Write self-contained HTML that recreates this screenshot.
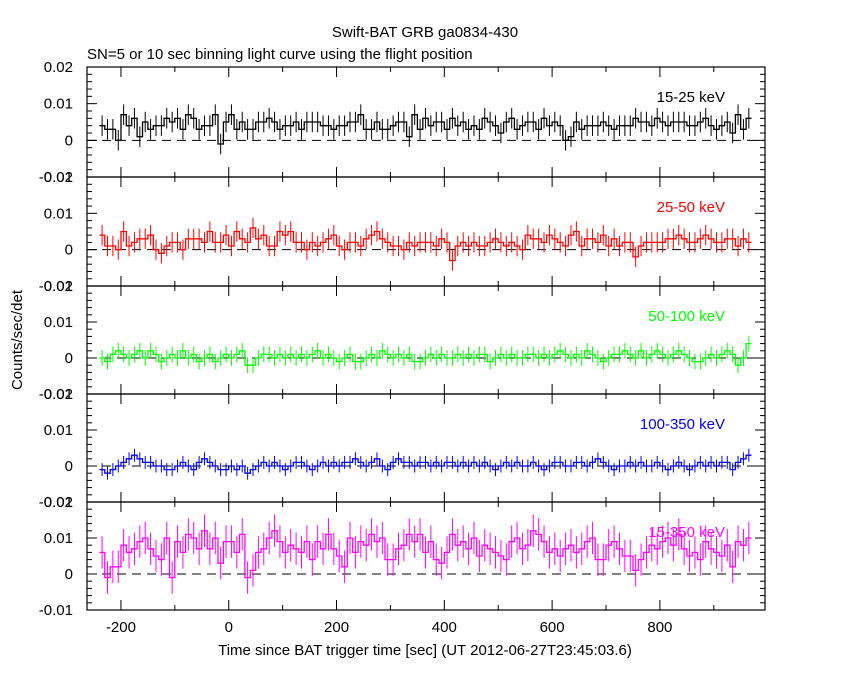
<!DOCTYPE html>
<html><head><meta charset="utf-8"><style>
body{margin:0;background:#fff;}
svg text{font-family:"Liberation Sans",sans-serif;}
</style></head><body>
<svg id="c" width="850" height="680" viewBox="0 0 850 680" xmlns="http://www.w3.org/2000/svg">
<text x="425" y="37" font-size="15" text-anchor="middle">Swift-BAT GRB ga0834-430</text>
<text x="87" y="59" font-size="15">SN=5 or 10 sec binning light curve using the flight position</text>
<text x="425" y="655" font-size="15" text-anchor="middle">Time since BAT trigger time [sec] (UT 2012-06-27T23:45:03.6)</text>
<text x="22" y="340" font-size="15" text-anchor="middle" transform="rotate(-90 22 340)">Counts/sec/det</text>
</svg>
<script>
const binStart = -240;
const binWidth = 10;
const xTicks = [-200, 0, 200, 400, 600, 800];
const bandLabels = ["15-25 keV", "25-50 keV", "50-100 keV", "100-350 keV", "15-350 keV"];
const bandColors = ["#000000", "#ff0000", "#00ff00", "#0000ff", "#ff00ff"];
// values in units of 1e-3 counts/sec/det
const rate15_25 = [4,3,3,0,7,4,6,1,5,3,4,4,6,5,6,3,7,6,3,4,4,7,-1,5,7,3,5,3,3,5,5,6,5,3,4,4,5,3,5,5,5,4,4,3,4,4,5,5,7,3,3,5,3,3,4,5,5,1,7,3,6,4,5,5,3,6,4,5,3,4,3,6,5,4,2,5,6,3,4,5,5,3,6,4,5,4,0,1,5,3,4,4,4,5,4,3,4,4,4,6,5,5,4,6,5,4,5,5,5,4,4,5,6,4,3,4,5,2,7,3,6];
const rate25_50 = [4,1,1,0,5,1,2,3,3,4,0,-1,1,2,2,0,3,3,3,2,5,2,2,4,1,5,3,2,6,3,4,1,1,5,4,5,2,2,0,2,1,2,3,4,1,0,2,2,1,3,4,5,3,2,1,1,0,2,1,2,2,2,1,3,2,-3,1,2,1,2,1,1,2,3,2,1,2,1,0,4,3,3,2,4,3,2,1,4,5,1,3,3,2,4,1,3,1,2,2,-2,1,2,2,2,2,3,3,4,3,2,2,3,4,3,2,2,3,3,1,3,2];
const rate50_100 = [0,-1,1,2,1,0,1,2,0,2,1,-1,0,1,0,2,0,1,-1,0,1,-1,0,1,0,1,2,-2,-2,0,1,1,0,1,0,1,0,1,0,1,2,0,1,0,-1,0,1,-1,-1,0,1,0,2,1,0,1,0,1,-1,-1,0,1,0,1,0,0,1,0,1,0,1,1,-1,0,1,0,1,0,0,1,1,0,1,0,1,2,1,0,1,0,2,1,0,-1,0,1,1,2,1,0,2,0,1,2,1,0,1,2,1,0,-1,-1,0,1,0,1,2,1,-2,0,4];
const rate100_350 = [-1,-2,-1,0,1,2,3,2,1,1,0,0,-1,-1,0,1,0,-1,1,2,1,0,-1,-1,0,-1,0,-2,-1,0,1,0,1,0,-1,0,1,1,0,-1,0,1,0,1,0,1,1,2,1,0,1,2,0,-1,1,2,1,1,0,1,1,0,1,0,1,1,0,1,0,1,0,1,0,-1,0,1,0,1,0,0,1,0,-1,0,1,1,0,0,1,1,0,1,2,1,0,-1,0,0,1,0,1,0,0,1,0,-1,0,1,0,-1,0,1,0,1,0,1,1,-1,1,2,3];
const rate15_350 = [6,-1,2,2,8,6,7,9,10,7,5,4,10,-1,9,6,11,10,7,12,7,10,3,9,9,6,11,-1,1,6,7,10,12,9,6,8,7,6,9,4,9,7,11,7,5,2,10,6,9,8,11,9,10,4,4,7,8,11,9,11,6,9,4,3,6,11,8,9,7,10,5,8,7,6,5,4,9,10,7,8,12,11,9,6,7,5,7,8,6,7,9,10,4,4,8,9,7,5,5,1,4,6,8,7,9,10,8,11,7,5,6,4,9,7,6,5,8,2,9,8,10];
const errs = [2.8, 2.8, 2.2, 1.8, 4.5];
const series = [rate15_25, rate25_50, rate50_100, rate100_350, rate15_350];
const NS = "http://www.w3.org/2000/svg";
const svg = document.getElementById('c');
const X0 = 87, X1 = 765, TMIN = -263, TMAX = 995;
const panels = [[67,177],[177,286],[286,394],[394,502],[502,610]];
function xs(t){ return X0 + (t - TMIN) / (TMAX - TMIN) * (X1 - X0); }
function mk(tag, attrs, parent){ const e = document.createElementNS(NS, tag); for (const k in attrs) e.setAttribute(k, attrs[k]); (parent||svg).appendChild(e); return e; }
panels.forEach((p, i) => {
  const [T, B] = p;
  const ys = v => T + (0.02 - v) / 0.03 * (B - T);
  const g = mk('g', {});
  
  
  const fr = mk('rect', {x:X0, y:T, width:X1-X0, height:B-T, fill:'none', stroke:'#000', 'stroke-width':1.2}, g);
  
  
  for (let k = -5; k <= 10; k++) {
    const v = k * 0.002, y = ys(v);
    if (y < T - 0.5 || y > B + 0.5) continue;
    const major = k % 5 === 0, len = major ? 10 : 5;
    mk('line', {x1:X0, x2:X0+len, y1:y, y2:y, stroke:'#000'}, g);
    mk('line', {x1:X1, x2:X1-len, y1:y, y2:y, stroke:'#000'}, g);
    if (major) {
      const lab = mk('text', {x:X0-14, y:y+5, 'font-size':15, 'text-anchor':'end'}, g);
      lab.textContent = v === 0 ? '0' : v.toFixed(2);
      
      
    }
  }
  for (let t = -200; t <= 900; t += 100) {
    const x = xs(t), major = t % 200 === 0, len = major ? 10 : 5;
    mk('line', {x1:x, x2:x, y1:B, y2:B-len, stroke:'#000'}, g);
    mk('line', {x1:x, x2:x, y1:T, y2:T+len, stroke:'#000'}, g);
  }
  const z = mk('line', {x1:X0, x2:X1, y1:ys(0), y2:ys(0), stroke:'#000', 'stroke-dasharray':'9,6'}, g);
  
  
  const vals = series[i], col = bandColors[i];
  let d = '';
  vals.forEach((v, j) => {
    const t0 = binStart + j*binWidth, t1 = t0 + binWidth, y = ys(v/1000);
    d += (j === 0 ? 'M' : 'L') + xs(t0).toFixed(1) + ',' + y.toFixed(1) + 'L' + xs(t1).toFixed(1) + ',' + y.toFixed(1);
    const xm = xs(t0 + binWidth/2);
    const eb = mk('line', {x1:xm, x2:xm, y1:ys((v+errs[i])/1000), y2:ys((v-errs[i])/1000), stroke:col, 'stroke-width':1}, g);
    
    
  });
  const path = mk('path', {d:d, fill:'none', stroke:col, 'stroke-width':1.3}, g);
  
  
  const lt = mk('text', {x:725, y:T+35, 'font-size':15, 'text-anchor':'end', fill:col}, g);
  lt.textContent = bandLabels[i];
  
  
});
xTicks.forEach(t => {
  const l = mk('text', {x:xs(t), y:632, 'font-size':15, 'text-anchor':'middle'});
  l.textContent = t;
  
  
});
</script>
</body></html>
